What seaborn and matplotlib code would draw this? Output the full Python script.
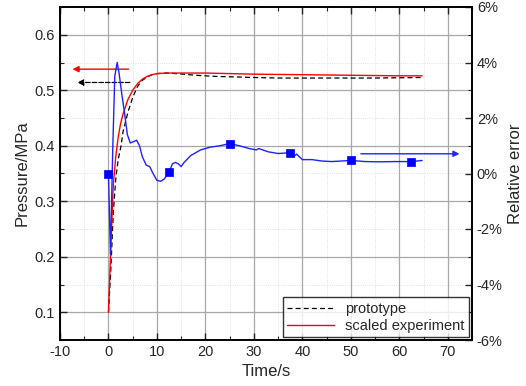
import seaborn as sns
import matplotlib.pyplot as plt
import pandas as pd
from matplotlib.ticker import MultipleLocator, FuncFormatter

# pressure curves (left axis, MPa)
t_proto = [0, 0.5, 1.0, 1.5, 2.0, 2.6, 3.0, 4.0, 5.0, 6.0, 7.0, 8.0, 9.0, 10, 12, 14,
           18, 22, 26, 30, 35, 45, 55, 64.7]
p_proto = [0.1, 0.18, 0.28, 0.34, 0.375, 0.40, 0.425, 0.46, 0.487, 0.507, 0.518, 0.524,
           0.528, 0.530, 0.531, 0.530, 0.527, 0.525, 0.524, 0.523, 0.522, 0.522, 0.522, 0.523]

t_scaled = [0, 0.5, 1.0, 1.5, 2.0, 2.5, 3.0, 3.5, 4.0, 5.0, 6.0, 7.0, 8.0, 9.0, 10, 12,
            15, 20, 25, 30, 40, 50, 60, 64.7]
p_scaled = [0.1, 0.22, 0.33, 0.38, 0.415, 0.44, 0.457, 0.47, 0.483, 0.5, 0.512, 0.52,
            0.525, 0.528, 0.530, 0.531, 0.531, 0.531, 0.530, 0.529, 0.528, 0.527, 0.526, 0.526]

# relative error (right axis, %)
t_err = [0, 0.4, 0.9, 1.3, 1.8, 2.2, 2.8, 3.3, 3.9, 4.5, 5.2, 5.8, 6.4, 7.0, 7.8, 8.5,
         9.2, 10.0, 10.8, 11.5, 12.5, 13.2, 13.8, 14.4, 15.0, 15.6, 17.0, 19.0, 21.0,
         23.0, 25.0, 27.0, 29.0, 30.5, 31.0, 33.0, 35.0, 37.5, 38.2, 38.8, 40, 42, 44,
         46, 48, 50, 53, 56, 59, 62.5, 64.7]
e_err = [0.0, -2.9, 1.0, 3.5, 4.0, 3.6, 2.8, 2.2, 1.4, 1.1, 1.15, 1.2, 1.0, 0.6, 0.3,
         0.25, 0.0, -0.25, -0.28, -0.2, 0.05, 0.35, 0.4, 0.35, 0.25, 0.4, 0.65, 0.85,
         0.95, 1.0, 1.08, 1.0, 0.9, 0.85, 0.9, 0.78, 0.72, 0.75, 0.6, 0.7, 0.5, 0.5,
         0.45, 0.43, 0.45, 0.47, 0.43, 0.42, 0.43, 0.43, 0.47]
t_mark = [0, 12.5, 25, 37.5, 50, 62.5]
e_mark = [0.0, 0.05, 1.08, 0.75, 0.47, 0.43]

sns.set_style("ticks")
plt.rcParams['font.family'] = ['Liberation Sans', 'DejaVu Sans']
plt.rcParams['axes.unicode_minus'] = False
plt.rcParams['xtick.direction'] = 'in'
plt.rcParams['ytick.direction'] = 'in'

fig = plt.figure(figsize=(5.26, 3.86), dpi=100)
ax = fig.add_axes([60 / 526, 46 / 386, 412 / 526, 333 / 386])
ax2 = ax.twinx()

sns.lineplot(x=t_proto, y=p_proto, ax=ax, color='black', lw=0.9, ls=(0, (4, 2.5)),
             label='prototype', legend=False)
sns.lineplot(x=t_scaled, y=p_scaled, ax=ax, color='red', lw=1.0,
             label='scaled experiment', legend=False)
sns.lineplot(x=t_err, y=e_err, ax=ax2, color='#2020ff', lw=1.0, legend=False)
sns.scatterplot(x=t_mark, y=e_mark, ax=ax2, color='#0000ff', marker='s', s=40,
                edgecolor='#0000ff', legend=False, zorder=5)

ax.set_xlim(-10, 75)
ax.set_ylim(0.05, 0.65)
ax2.set_ylim(-6, 6)

ax.xaxis.set_major_locator(MultipleLocator(10))
ax.xaxis.set_minor_locator(MultipleLocator(5))
ax.yaxis.set_major_locator(MultipleLocator(0.1))
ax.yaxis.set_minor_locator(MultipleLocator(0.05))
ax2.yaxis.set_major_locator(MultipleLocator(2))
ax2.yaxis.set_minor_locator(MultipleLocator(1))
ax2.yaxis.set_major_formatter(FuncFormatter(lambda v, p: f"{int(round(v))}%"))

ax.grid(which='major', color='#a8a8a8', lw=0.9)
ax.grid(which='minor', color='#d8d8d8', lw=0.6, ls=':')
ax.tick_params(axis='x', which='both', top=True)
ax.tick_params(which='major', length=5, width=1.0, labelsize=10.5)
ax.tick_params(which='minor', length=3, width=0.8)
ax2.tick_params(which='major', length=5, width=1.0, labelsize=10.5)
ax2.tick_params(which='minor', length=3, width=0.8)
for a in (ax, ax2):
    for s in a.spines.values():
        s.set_linewidth(1.2)
        s.set_color('black')

ax.set_xlabel('Time/s', fontsize=12)
ax.set_ylabel('Pressure/MPa', fontsize=12)
ax2.set_ylabel('Relative error', fontsize=12)

# arrows pointing to the axis each curve belongs to
ax.annotate('', xy=(-8, 0.538), xytext=(4.7, 0.538),
            arrowprops=dict(arrowstyle='-|>', color='red', lw=1.0, mutation_scale=9))
ax.annotate('', xy=(-7, 0.514), xytext=(5, 0.514),
            arrowprops=dict(arrowstyle='-|>', color='black', lw=0.9, ls='--',
                            mutation_scale=9))
ax2.annotate('', xy=(73, 0.71), xytext=(51.5, 0.71),
             arrowprops=dict(arrowstyle='-|>', color='#2020ff', lw=1.0, mutation_scale=9))

h, l = ax.get_legend_handles_labels()
leg = ax2.legend(h, l, loc='lower right', fontsize=10.5, frameon=True, fancybox=False,
                 edgecolor='black', borderaxespad=0.2, handlelength=3.2,
                 borderpad=0.3, labelspacing=0.2)
leg.get_frame().set_linewidth(1.0)

fig.savefig('out.png', dpi=100)
